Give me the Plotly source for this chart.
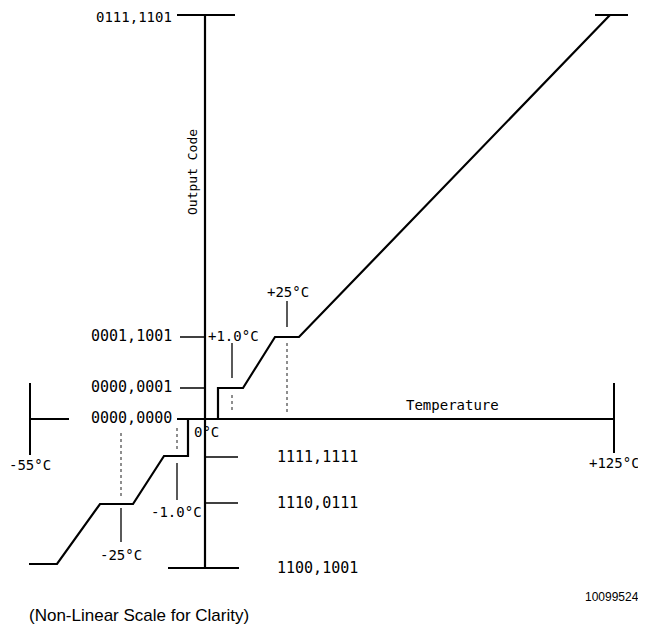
import plotly.graph_objects as go

# ---- Diagram data (diagram units: origin at 0°C / code 0000,0000; y up) ----
# Output code levels on the vertical axis
code_labels_left = ["0111,1101", "0001,1001", "0000,0001", "0000,0000"]
code_levels_left = [404, 82, 31, 0]
code_labels_right = ["1111,1111", "1110,0111", "1100,1001"]
code_levels_right = [-38, -84, -149]

# Temperature positions on the (non-linear) horizontal axis
temp_labels = ["-55°C", "-25°C", "-1.0°C", "0°C", "+1.0°C", "+25°C", "+125°C"]
temp_positions = [-175, -84, -28, 0, 27, 82, 409]

# Transfer function, positive side
pos_curve_x = [13, 13, 38, 70, 94, 405]
pos_curve_y = [0, 31, 31, 82, 82, 404]
# Transfer function, negative side
neg_curve_x = [-176, -148, -105, -72, -41, -17, -17]
neg_curve_y = [-145, -145, -85, -85, -37, -37, 0]

# Axis extents
v_axis_y = [-149, 404]
h_axis_x = [-28, 409]

# ---------------------------------------------------------------------------
fig = go.Figure()
BLACK = "#000000"


def seg(xs, ys, width=2.0, dash="solid", color=BLACK):
    fig.add_trace(go.Scatter(x=xs, y=ys, mode="lines",
                             line=dict(color=color, width=width, dash=dash),
                             hoverinfo="skip", showlegend=False))


# Vertical (Output Code) axis
seg([0, 0], v_axis_y, 2.2)
# Top and bottom caps
seg([-28, 30], [v_axis_y[1]] * 2, 2.0)
seg([-37, 34], [v_axis_y[0]] * 2, 2.0)
# Horizontal (Temperature) axis
seg(h_axis_x, [0, 0], 2.0)
# Left stub at -55°C
seg([temp_positions[0], temp_positions[0]], [36, -36], 2.0)
seg([temp_positions[0], -136], [0, 0], 2.0)
# Right end at +125°C
seg([temp_positions[-1], temp_positions[-1]], [36, -34], 2.0)

# Code ticks
for lvl in code_levels_left[1:3]:
    seg([-25, 0], [lvl, lvl], 1.5)
for lvl in code_levels_right[:2]:
    seg([0, 33], [lvl, lvl], 1.5)

# Transfer function
seg(pos_curve_x, pos_curve_y, 2.2)
seg([390, 423], [404, 404], 2.0)
seg(neg_curve_x, neg_curve_y, 2.2)

# Temperature marker lines (solid leader + dotted drop)
GRAY = "#444444"
# +1.0°C
seg([27, 27], [76, 41], 1.3)
seg([27, 27], [24, 6], 1.2, "dot", GRAY)
# +25°C
seg([82, 82], [118, 92], 1.3)
seg([82, 82], [76, 6], 1.2, "dot", GRAY)
# -1.0°C
seg([-28, -28], [-44, -81], 1.3)
seg([-28, -28], [-9, -33], 1.2, "dot", GRAY)
# -25°C
seg([-84, -84], [-89, -123], 1.3)
seg([-84, -84], [-14, -78], 1.2, "dot", GRAY)

MONO = "DejaVu Sans Mono"
ann = []


def label(text, x, y, xanchor="center", size=14, family=MONO, angle=0):
    ann.append(dict(text=text, x=x, y=y, xref="x", yref="y", showarrow=False,
                    xanchor=xanchor, yanchor="middle", textangle=angle,
                    font=dict(family=family, size=size, color=BLACK)))


# Code labels
for t, lvl in zip(code_labels_left, code_levels_left):
    yy = lvl + 1 if lvl < 400 else lvl - 2
    label(t, -31, yy, "right", 15 if lvl < 400 else 14)
for t, lvl in zip(code_labels_right, code_levels_right):
    label(t, 70, lvl, "left", 15)

# Temperature labels
label(temp_labels[0], temp_positions[0], -46, "center", 14)
label(temp_labels[1], temp_positions[1], -136, "center", 14)
label(temp_labels[2], -29, -93, "center", 14)
label(temp_labels[3], 1, -13, "center", 14)
label(temp_labels[4], 28, 83, "center", 14)
label(temp_labels[5], 83, 127, "center", 14)
label(temp_labels[6], temp_positions[-1], -44, "center", 14)

# Axis titles
label("Temperature", 247, 14, "center", 14)
label("Output Code", -13, 247, "center", 13, angle=-90)

# Notes
label("10099524", 436, -178, "right", 12, "Liberation Sans")
label("(Non-Linear Scale for Clarity)", -178, -196, "left", 17, "Liberation Sans")

# The page body adds an 8px offset; the figure is sized to fill the rest of the window
fig.update_layout(
    width=638, height=621,
    margin=dict(l=0, r=0, t=0, b=0),
    paper_bgcolor="white", plot_bgcolor="white",
    xaxis=dict(range=[-197, 441], visible=False, fixedrange=True),
    yaxis=dict(range=[-210, 411], visible=False, fixedrange=True),
    annotations=ann,
    showlegend=False,
)

fig.write_html("out.html")
